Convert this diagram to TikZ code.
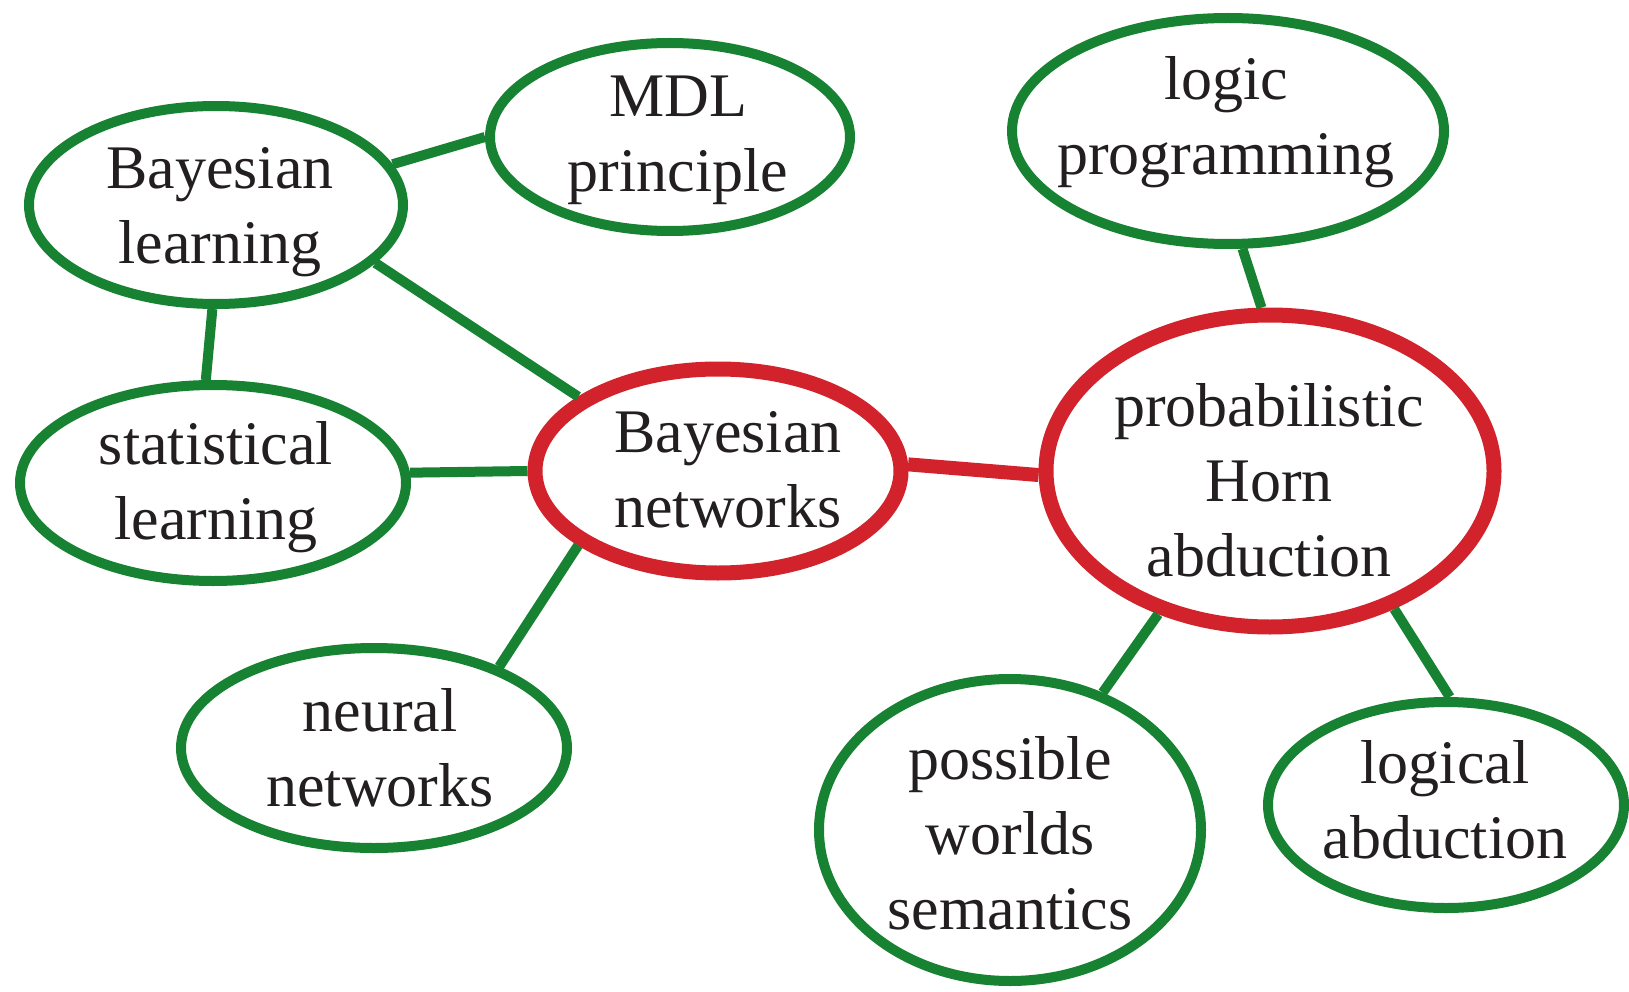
\documentclass[tikz,border=0pt]{standalone}
\usepackage{fontspec}
\setmainfont{Liberation Serif}
\usetikzlibrary{shapes.geometric}
\definecolor{topicgreen}{RGB}{22,130,50}
\definecolor{keyred}{RGB}{210,35,45}
\definecolor{ink}{RGB}{35,31,32}
\tikzset{
  bubble/.style={ellipse, draw=topicgreen, line width=10pt, inner sep=0pt, fill=white},
  keybubble/.style={ellipse, draw=keyred, line width=15pt, inner sep=0pt, fill=white},
  caption/.style={align=center, inner sep=0pt, text=ink, font=\fontsize{62}{75}\selectfont},
  link/.style={draw=topicgreen, line width=10pt},
  keylink/.style={draw=keyred, line width=14pt}
}
\begin{document}
\begin{tikzpicture}[x=1pt,y=-1pt]
\useasboundingbox (0,0) rectangle (1629,992);

% ellipse centres
\coordinate (c-bl) at (216,205);
\coordinate (c-mdl) at (670,137);
\coordinate (c-lp) at (1228,131);
\coordinate (c-sl) at (213,483);
\coordinate (c-bn) at (718,471);
\coordinate (c-pha) at (1270,471);
\coordinate (c-nn) at (374,748);
\coordinate (c-pws) at (1010,830);
\coordinate (c-la) at (1446,805);

% topic ellipses
\node[bubble, minimum width=374pt, minimum height=198pt] (bl) at (c-bl) {};
\node[bubble, minimum width=360pt, minimum height=188pt] (mdl) at (c-mdl) {};
\node[bubble, minimum width=432pt, minimum height=226pt] (lp) at (c-lp) {};
\node[bubble, minimum width=386pt, minimum height=196pt] (sl) at (c-sl) {};
\node[bubble, minimum width=386pt, minimum height=200pt] (nn) at (c-nn) {};
\node[bubble, minimum width=382pt, minimum height=302pt] (pws) at (c-pws) {};
\node[bubble, minimum width=356pt, minimum height=206pt] (la) at (c-la) {};
% the two central ellipses
\node[keybubble, minimum width=366pt, minimum height=204pt] (bn) at (c-bn) {};
\node[keybubble, minimum width=448pt, minimum height=312pt] (pha) at (c-pha) {};

% connectors
\draw[link] (bl.13.5) -- (mdl.180);
\draw[link] (bl.-92) -- (sl.94);
\draw[link] (bl.-20) -- (bn.152);
\draw[link] (sl.3) -- (bn.180);
\draw[link] (bn.208) -- (nn.33);
\draw[link] (lp.-83) -- (pha.93);
\draw[link] (pha.-128) -- (pws.56);
\draw[link] (pha.-48) -- (la.88);
\draw[keylink] (bn.2.6) -- (pha.181);

% labels
\node[caption] (t-bl) at (220,212) {Bayesian\\learning};
\node[caption] (t-mdl) at (678,140) {MDL\\principle};
\node[caption] (t-lp) at (1226,122) {logic\\programming};
\node[caption] (t-sl) at (216,487) {statistical\\learning};
\node[caption] (t-bn) at (728,470) {Bayesian\\networks};
\node[caption] (t-pha) at (1269,480) {probabilistic\\Horn\\abduction};
\node[caption] (t-nn) at (380,748) {neural\\networks};
\node[caption] (t-pws) at (1010,833) {possible\\worlds\\semantics};
\node[caption] (t-la) at (1445,800) {logical\\abduction};
\end{tikzpicture}
\end{document}
